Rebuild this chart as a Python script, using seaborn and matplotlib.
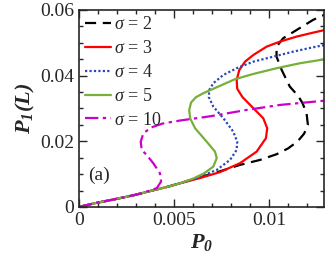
import numpy as np
import pandas as pd
import seaborn as sns
import matplotlib.pyplot as plt

# P0 / P1(L) values (S-shaped curves, ordered along the curve)
low_p0 = [0, 0.00084, 0.00189, 0.00295, 0.00383, 0.00470, 0.00532]
low_p1 = [0, 0.00113, 0.00235, 0.00366, 0.00497, 0.00618, 0.00722]

p0_s2 = low_p0 + [0.00637, 0.00742, 0.00847, 0.00953, 0.01040, 0.01100, 0.01150, 0.01185, 0.01205, 0.01198,
                  0.01177, 0.01154, 0.01110, 0.01067, 0.01040, 0.01040, 0.01075, 0.01146, 0.01233, 0.01295]
p1_s2 = low_p1 + [0.00900, 0.01085, 0.01279, 0.01432, 0.01605, 0.01780, 0.01990, 0.02230, 0.02498, 0.02854,
                  0.03158, 0.03380, 0.03664, 0.04173, 0.04578, 0.04883, 0.05139, 0.05391, 0.05700, 0.05860]

p0_s3 = low_p0 + [0.00637, 0.00742, 0.00847, 0.00935, 0.00984, 0.00991, 0.00970, 0.00918, 0.00860,
                  0.00833, 0.00830, 0.00844, 0.00874, 0.00918, 0.00988, 0.01058, 0.01145, 0.01233, 0.01295]
p1_s3 = low_p1 + [0.00880, 0.01060, 0.01331, 0.01684, 0.02093, 0.02397, 0.02702, 0.03006, 0.03350,
                  0.03600, 0.03868, 0.04173, 0.04426, 0.04630, 0.04884, 0.05036, 0.05188, 0.05310, 0.05391]

p0_s4 = low_p0 + [0.00637, 0.00725, 0.00795, 0.00830, 0.00833, 0.00812, 0.00760, 0.00707, 0.00683,
                  0.00686, 0.00707, 0.00760, 0.00830, 0.00918, 0.01023, 0.01128, 0.01233, 0.01295]
p1_s4 = low_p1 + [0.00923, 0.01127, 0.01432, 0.01736, 0.01989, 0.02294, 0.02702, 0.03057, 0.03350,
                  0.03564, 0.03768, 0.04021, 0.04225, 0.04426, 0.04578, 0.04731, 0.04864, 0.04935]

p0_s5 = low_p0 + [0.00600, 0.00660, 0.00707, 0.00725, 0.00716, 0.00672, 0.00611, 0.00585, 0.00580,
                  0.00590, 0.00615, 0.00654, 0.00725, 0.00821, 0.00918, 0.01040, 0.01163, 0.01295]
p1_s5 = low_p1 + [0.00860, 0.01030, 0.01228, 0.01483, 0.01684, 0.01989, 0.02397, 0.02700, 0.02950,
                  0.03180, 0.03340, 0.03463, 0.03646, 0.03890, 0.04051, 0.04225, 0.04377, 0.04499]

p0_s10 = low_p0[:4] + [0.00330, 0.00409, 0.00432, 0.00426, 0.00391, 0.00356, 0.00330, 0.00325, 0.00339,
                       0.00380, 0.00440, 0.00530, 0.00689, 0.00883, 0.01058, 0.01295]
p1_s10 = low_p1[:4] + [0.00417, 0.00570, 0.00771, 0.01027, 0.01331, 0.01584, 0.01736, 0.01989, 0.02245,
                       0.02420, 0.02540, 0.02630, 0.02760, 0.02955, 0.03107, 0.03238]

sigmas = [2, 3, 4, 5, 10]
p0_all = [p0_s2, p0_s3, p0_s4, p0_s5, p0_s10]
p1_all = [p1_s2, p1_s3, p1_s4, p1_s5, p1_s10]
colors = ['black', '#ff0000', '#2a48b8', '#76b03a', '#cc00cc']
styles = [(0, (5, 3)), '-', (0, (1, 1)), '-', (0, (6, 2, 1.5, 2))]

sns.set_style('ticks')
plt.rcParams['font.family'] = ['Liberation Serif', 'DejaVu Serif']
plt.rcParams['mathtext.fontset'] = 'custom'
plt.rcParams['mathtext.rm'] = 'Liberation Serif'
plt.rcParams['mathtext.it'] = 'Liberation Serif:italic'
plt.rcParams['mathtext.bfit'] = 'Liberation Serif:italic:bold'

fig = plt.figure(figsize=(3.32, 2.77), dpi=100)
ax = fig.add_axes([0.238, 0.253, 0.738, 0.711])

for s, x, y, c, ls in zip(sigmas, p0_all, p1_all, colors, styles):
    df = pd.DataFrame({'P0': x, 'P1': y})
    sns.lineplot(data=df, x='P0', y='P1', sort=False, estimator=None, color=c,
                 linestyle=ls, lw=1.6, label=r'$\sigma$ = %d' % s, ax=ax)

ax.set_xlim(0, 0.0129)
ax.set_ylim(0, 0.06)
ax.set_xticks([0, 0.005, 0.01])
ax.set_xticklabels(['0', '0.005', '0.01'])
ax.set_yticks([0, 0.02, 0.04, 0.06])
ax.set_yticklabels(['0', '0.02', '0.04', '0.06'])
ax.set_xticks(np.arange(0, 0.013, 0.001), minor=True)
ax.set_yticks(np.arange(0, 0.0601, 0.005), minor=True)
ax.tick_params(which='both', direction='in', top=True, right=True, labelsize=14, width=1)
ax.tick_params(which='major', length=6)
ax.tick_params(which='minor', length=3)
for sp in ax.spines.values():
    sp.set_linewidth(1.2)

ax.set_xlabel(r'$\mathbfit{P}_{\mathbfit{0}}$', fontsize=16, labelpad=2)
ax.set_ylabel(r'$\mathbfit{P}_{\mathbfit{1}}\mathbfit{(L)}$', fontsize=16, labelpad=2)
ax.text(0.082, 0.16, '(a)', transform=ax.transAxes, fontsize=14, ha='center', va='center')

ax.legend(loc='upper left', frameon=False, fontsize=13, handlelength=1.4, handletextpad=0.2,
          labelspacing=0.38, borderaxespad=0.1, borderpad=0.25)

fig.savefig('out.png', dpi=100)
